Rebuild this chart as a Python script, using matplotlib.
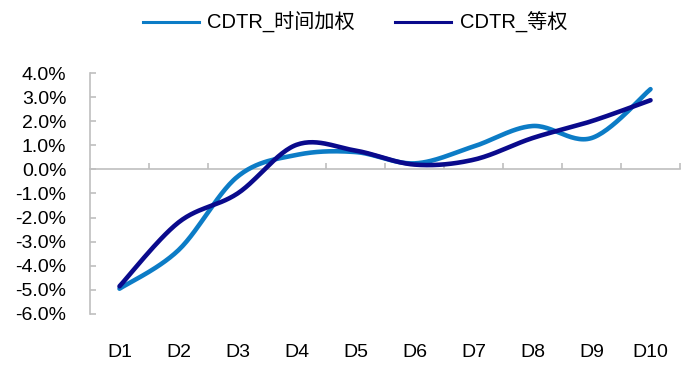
import numpy as np
import matplotlib
matplotlib.use('Agg')
import matplotlib.pyplot as plt
from matplotlib.ticker import FuncFormatter, FixedLocator
from matplotlib.lines import Line2D

plt.rcParams['font.family'] = ['Liberation Sans', 'Noto Sans CJK SC', 'DejaVu Sans']

categories = ['D1', 'D2', 'D3', 'D4', 'D5', 'D6', 'D7', 'D8', 'D9', 'D10']
time_weighted = [-4.95, -3.35, -0.3, 0.6, 0.72, 0.25, 0.95, 1.8, 1.3, 3.33]
equal_weight = [-4.85, -2.2, -1.0, 1.02, 0.78, 0.2, 0.4, 1.3, 2.0, 2.87]
labels = ['CDTR_时间加权', 'CDTR_等权']
colors = ['#0C7CC6', '#0A0A8C']


# gladka krzywa przez punkty (jak w excelu)
def smooth(x, y, n=30):
    pts = np.column_stack([x, y]).astype(float)
    p = np.vstack([pts[0], pts, pts[-1]])
    out = []
    for i in range(1, len(p) - 2):
        p0, p1, p2, p3 = p[i - 1], p[i], p[i + 1], p[i + 2]
        c1 = p1 + (p2 - p0) / 6
        c2 = p2 - (p3 - p1) / 6
        t = np.linspace(0, 1, n)[:, None]
        seg = (1 - t) ** 3 * p1 + 3 * (1 - t) ** 2 * t * c1 + 3 * (1 - t) * t ** 2 * c2 + t ** 3 * p2
        out.append(seg if i == 1 else seg[1:])
    out = np.vstack(out)
    return out[:, 0], out[:, 1]


fig = plt.figure(figsize=(6.93, 3.75), dpi=100)
ax = fig.add_axes([90 / 693, 1 - 314 / 375, 590 / 693, 241 / 375])

xs = np.arange(1, len(categories) + 1)
for vals, col in zip([time_weighted, equal_weight], colors):
    sx, sy = smooth(xs, vals)
    ax.plot(sx, sy, color=col, lw=3.3, solid_capstyle='round', zorder=3)

grey = '#BFBFBF'
ax.set_xlim(0.5, len(categories) + 0.5)
ax.set_ylim(-6, 4)
for s in ['top', 'right']:
    ax.spines[s].set_visible(False)
ax.spines['left'].set_color(grey)
ax.spines['left'].set_linewidth(1.2)
ax.spines['bottom'].set_position(('data', 0))
ax.spines['bottom'].set_color(grey)
ax.spines['bottom'].set_linewidth(1.2)

ax.yaxis.set_major_locator(FixedLocator(np.arange(-6, 5, 1)))
ax.yaxis.set_major_formatter(FuncFormatter(lambda v, _: f'{v:.1f}%'))
ax.tick_params(axis='y', direction='in', length=4, color=grey, width=1.2,
               labelsize=14, pad=17)
ax.xaxis.set_major_locator(FixedLocator(xs + 0.5))
ax.tick_params(axis='x', direction='in', length=4, color=grey, width=1.2,
               labelbottom=False)

trans = matplotlib.transforms.blended_transform_factory(ax.transData, ax.transAxes)
for x, c in zip(xs, categories):
    ax.text(x, -0.16, c, transform=trans, ha='center', va='center', fontsize=14)

handles = [Line2D([], [], color=c, lw=2.2) for c in colors]
fig.legend(handles, labels, loc='center', bbox_to_anchor=(0.512, 0.94), ncol=2,
           frameon=False, fontsize=14.5, handlelength=2.8, handletextpad=0.4,
           columnspacing=2.0)

fig.savefig('out.png', dpi=100)
